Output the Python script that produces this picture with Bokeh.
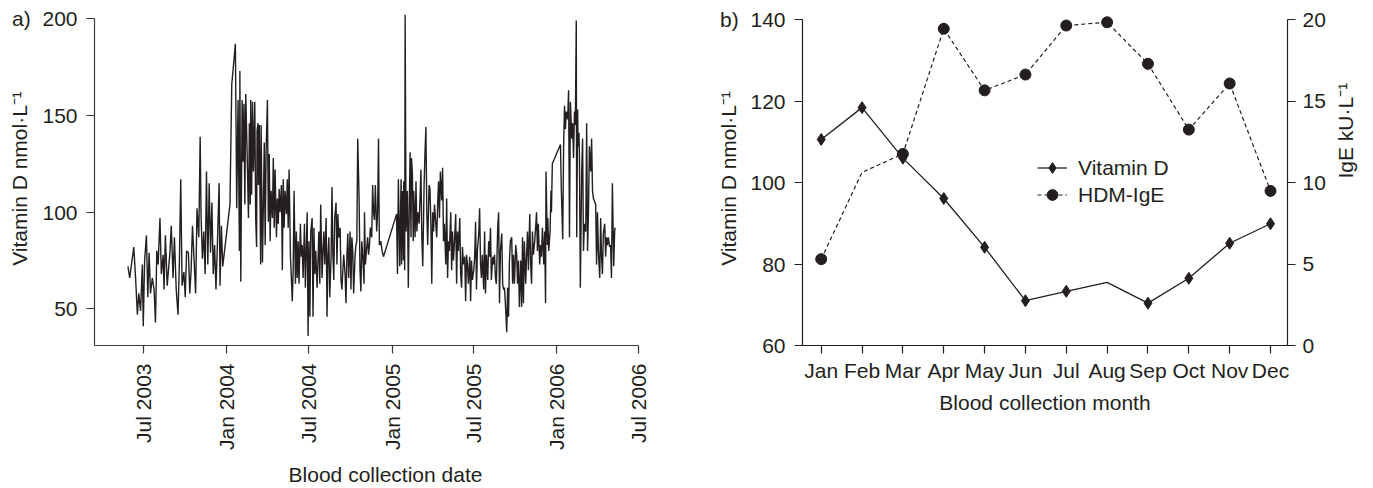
import math
from datetime import datetime
import pandas as pd
from bokeh.plotting import figure
from bokeh.layouts import row
from bokeh.models import (ColumnDataSource, Range1d, LinearAxis, FixedTicker,
                          Legend, LegendItem, DatetimeTickFormatter)
from bokeh.embed import file_html
from bokeh.resources import INLINE

FONT = "Liberation Sans"
INK = "#231f20"
AXIS_A = "#3a3a3a"
FS = "21px"
NB2 = "\u00a0\u00a0"

# ---------------- data: panel a (daily vitamin D, nmol/L) ----------------
series_start = "2003-05-27"   # day 0 of the collection series

days_jun03_dec03 = [0, 4, 13, 17, 21, 24, 28, 32, 34, 37, 41, 44, 47, 50, 54, 58, 61, 64, 67, 71,
                    74, 78, 80, 83, 87, 93, 96, 100, 103, 107, 111, 114, 117, 120, 124, 127, 130, 134, 137, 140,
                    143, 146, 150, 153, 157, 160, 162, 165, 168, 171, 174, 177, 180, 183, 186, 189, 192, 195, 198, 202,
                    204, 207, 210]
nmol_jun03_dec03 = [72, 66, 82, 66, 47, 58, 49, 73, 41, 75, 88, 56, 79, 58, 66, 60, 43, 80, 73, 97,
                    68, 78, 60, 88, 62, 79, 93, 66, 87, 60, 47, 74, 117, 62, 69, 56, 80, 79, 58, 70,
                    93, 78, 58, 102, 87, 139, 98, 76, 90, 68, 121, 73, 115, 79, 105, 68, 83, 60, 82, 115,
                    62, 93, 72]

days_jan04_dec04 = [226, 230, 238, 241, 244, 247, 248, 250, 253, 255, 257, 259, 261, 264, 267, 269, 271,
                    272, 274, 276, 278, 281, 283, 285, 286, 288, 289, 291, 294, 295, 298, 300, 302, 304, 306, 309, 311,
                    313, 315, 317, 320, 322, 324, 326, 329, 331, 333, 335, 337, 340, 342, 344, 346, 348, 351, 353, 355,
                    357, 360, 362, 364, 366, 368, 371, 373, 375, 377, 379, 382, 384, 386, 388, 391, 393, 395, 397, 399,
                    401, 403, 405, 408, 410, 412, 414, 416, 419, 421, 423, 425, 427, 430, 432, 434, 436, 439, 441, 443,
                    445, 447, 450, 452, 454, 456, 458, 461, 463, 465, 467, 470, 472, 474, 476, 478, 481, 483, 485, 487,
                    489, 492, 494, 496, 498, 500, 503, 505, 507, 509, 512, 514, 516, 518, 520, 523, 524, 526, 529, 531,
                    533, 535, 537, 540, 542, 544, 546, 548, 551, 553, 555, 557, 560, 563, 566]
nmol_jan04_dec04 = [104, 166, 187, 102, 158, 80, 173, 64, 158, 126, 156, 104, 161, 131, 97, 146, 104,
                    158, 109, 157, 121, 157, 97, 82, 142, 146, 114, 145, 73, 145, 74, 104, 136, 83, 131, 158, 95,
                    130, 85, 111, 97, 128, 92, 122, 87, 107, 94, 112, 100, 114, 70, 117, 92, 111, 99, 117, 92,
                    122, 77, 66, 54, 70, 111, 63, 90, 66, 85, 63, 94, 77, 83, 66, 94, 61, 80, 100, 36,
                    85, 46, 90, 97, 46, 92, 68, 80, 61, 75, 90, 63, 104, 66, 80, 90, 73, 97, 46, 78,
                    87, 56, 77, 113, 78, 65, 97, 105, 73, 99, 87, 92, 65, 60, 70, 78, 68, 53, 77, 89,
                    66, 90, 60, 87, 80, 58, 77, 83, 85, 138, 107, 70, 59, 85, 78, 63, 100, 73, 82, 87,
                    78, 83, 92, 87, 114, 100, 96, 114, 90, 100, 138, 83, 85, 80, 77]

days_jan05_dec05 = [595, 597, 599, 601, 602, 605, 606, 608, 610, 611, 613, 614, 616, 619, 621, 623, 625,
                    627, 628, 630, 632, 633, 636, 638, 640, 642, 645, 647, 649, 651, 653, 656, 658, 660, 662, 664, 667,
                    669, 671, 673, 675, 677, 679, 681, 684, 686, 688, 690, 692, 695, 697, 699, 701, 704, 706, 708, 710,
                    712, 715, 717, 719, 721, 723, 726, 728, 730, 732, 735, 737, 739, 741, 743, 746, 748, 750, 752, 754,
                    757, 759, 761, 763, 766, 768, 770, 772, 774, 777, 779, 781, 783, 785, 788, 790, 792, 794, 797, 799,
                    801, 803, 805, 808, 810, 812, 814, 816, 819, 821, 823,
                    825, 828, 830, 832, 834, 836, 839, 841, 843, 845, 847, 850, 852, 854, 856, 859, 861, 863, 865, 867,
                    870, 872, 874, 876, 878, 881, 883, 885, 887, 890, 892, 894, 896, 898, 901, 903, 905, 907, 909, 912,
                    914, 916, 918, 921, 923, 925, 926, 929, 930, 932, 935, 937, 938, 940]
nmol_jan05_dec05 = [99, 68, 117, 90, 72, 117, 73, 111, 75, 116, 70, 202, 90, 111, 61, 100, 131,
                    87, 128, 121, 85, 111, 87, 116, 90, 100, 94, 107, 122, 87, 72, 114, 131, 144, 100, 83, 114,
                    112, 94, 63, 100, 90, 104, 97, 87, 104, 116, 97, 121, 106, 123, 85, 94, 73, 107, 66, 85,
                    80, 100, 70, 90, 75, 83, 99, 63, 90, 80, 97, 68, 61, 82, 73, 77, 54, 78, 73, 63,
                    77, 54, 75, 65, 70, 77, 95, 60, 80, 89, 102, 73, 66, 78, 60, 90, 58, 78, 65, 85,
                    77, 92, 65, 77, 73, 78, 66, 63, 92, 100, 53,
                    80, 89, 63, 60, 61, 53, 38, 61, 46, 75, 85, 87, 63, 78, 63, 83, 78, 63, 75, 51,
                    75, 51, 87, 53, 85, 63, 78, 90, 70, 99, 73, 63, 90, 78, 85, 92, 100, 80, 94, 73,
                    83, 77, 92, 73, 90, 53, 121, 83, 97, 80, 90, 111, 100, 125]

days_jan06_may06 = [958, 960, 963, 965, 967, 969, 971, 974, 976, 978, 980, 983, 985, 987, 989, 991, 993, 994, 996, 997,
                    999, 1000, 1002, 1005, 1007, 1009, 1011, 1014, 1016, 1018, 1020, 1022, 1025, 1027, 1029, 1031, 1033, 1036, 1038, 1040,
                    1042, 1045, 1047, 1049, 1051, 1053, 1056, 1058, 1060, 1062, 1064, 1067, 1069, 1071, 1073, 1076, 1078, 1079]
nmol_jan06_may06 = [135, 111, 86, 134, 155, 143, 152, 148, 163, 87, 157, 138, 146, 128, 152, 145, 199, 87, 153, 134,
                    141, 129, 61, 121, 138, 80, 94, 90, 146, 80, 100, 134, 121, 138, 111, 107, 106, 104, 73, 100,
                    80, 66, 97, 77, 68, 89, 94, 77, 87, 83, 87, 82, 83, 66, 115, 72, 90, 92]

date_tick_labels = ["Jul 2003", "Jan 2004", "Jul 2004", "Jan 2005", "Jul 2005", "Jan 2006", "Jul 2006"]
a_yticks = [50, 100, 150, 200]
panel_a_tag = "a)"

# ---------------- data: panel b (monthly means) ----------------
months = ["Jan", "Feb", "Mar", "Apr", "May", "Jun", "Jul", "Aug", "Sep", "Oct", "Nov", "Dec"]
vitd_month_nmol = [110.6, 118.4, 106.0, 96.1, 84.1, 71.0, 73.3, 75.5, 70.4, 76.5, 85.1, 89.9]
vitd_month_marked = [1, 1, 1, 1, 1, 1, 1, 0, 1, 1, 1, 1]
ige_month_kul = [5.30, 10.63, 11.76, 19.44, 15.66, 16.63, 19.64, 19.84, 17.29, 13.25, 16.08, 9.49]
ige_month_marked = [1, 0, 1, 1, 1, 1, 1, 1, 1, 1, 1, 1]
b_left_ticks = [60, 80, 100, 120, 140]
b_right_ticks = [0, 5, 10, 15, 20]
panel_b_tag = "b)"


def style_axis(ax, color):
    ax.axis_line_color = color
    ax.axis_line_width = 1.2
    ax.major_tick_line_color = color
    ax.major_tick_line_width = 1.2
    ax.major_tick_out = 8
    ax.major_tick_in = 0
    ax.minor_tick_line_color = None
    ax.major_label_text_font = FONT
    ax.major_label_text_font_size = FS
    ax.major_label_text_color = INK
    ax.axis_label_text_font = FONT
    ax.axis_label_text_font_size = FS
    ax.axis_label_text_font_style = "normal"
    ax.axis_label_text_color = INK


# ---------------- panel a ----------------
day_all = days_jun03_dec03 + days_jan04_dec04 + days_jan05_dec05 + days_jan06_may06
nmol_all = nmol_jun03_dec03 + nmol_jan04_dec04 + nmol_jan05_dec05 + nmol_jan06_may06
assert len(day_all) == len(nmol_all)
base = pd.Timestamp(series_start)
dates = [base + pd.Timedelta(days=d) for d in day_all]
src_a = ColumnDataSource(dict(date=dates, nmol=nmol_all))

tick_dates = [pd.Timestamp(datetime.strptime(t, "%b %Y")) for t in date_tick_labels]
tick_ms = [int(t.value // 10**6) for t in tick_dates]
xa_start = pd.Timestamp("2003-03-14")
xa_end = pd.Timestamp("2006-09-23")

pa = figure(width=686, height=488, x_axis_type="datetime",
            x_range=Range1d(xa_start, xa_end), y_range=Range1d(31.1, 203.7),
            output_backend="svg", toolbar_location=None,
            min_border_left=94, min_border_right=10, min_border_top=11, min_border_bottom=139)
pa.outline_line_color = None
pa.grid.visible = False
pa.line("date", "nmol", source=src_a, line_color=INK, line_width=1.4)

xa = pa.xaxis[0]
style_axis(xa, AXIS_A)
xa.ticker = FixedTicker(ticks=tick_ms)
xa.formatter = DatetimeTickFormatter(months="%b %Y", years="%b %Y")
xa.major_label_overrides = dict(zip(tick_ms, date_tick_labels))
xa.bounds = (xa_start, tick_dates[-1])
xa.major_label_orientation = math.pi / 2
xa.major_label_standoff = 10
xa.axis_label = "Blood collection date"
xa.axis_label_standoff = 10

ya = pa.yaxis[0]
style_axis(ya, AXIS_A)
ya.ticker = FixedTicker(ticks=a_yticks)
ya.bounds = (31.1, a_yticks[-1])
ya.major_label_overrides = {a_yticks[-1]: panel_a_tag + NB2 + str(a_yticks[-1])}
ya.major_label_standoff = 9
ya.axis_label = "Vitamin D nmol·L⁻¹"
ya.axis_label_standoff = -22

# ---------------- panel b ----------------
mnum = list(range(1, len(months) + 1))
pb = figure(width=687, height=488, x_range=Range1d(0.542, 12.416), y_range=Range1d(60, 142),
            output_backend="svg", toolbar_location=None,
            min_border_left=116, min_border_right=86, min_border_top=9, min_border_bottom=139)
pb.extra_y_ranges = {"ige": Range1d(0, 20.5)}
pb.outline_line_color = None
pb.grid.visible = False

src_v = ColumnDataSource(dict(m=mnum, v=vitd_month_nmol))
src_vm = ColumnDataSource(dict(m=[m for m, k in zip(mnum, vitd_month_marked) if k],
                               v=[v for v, k in zip(vitd_month_nmol, vitd_month_marked) if k]))
src_i = ColumnDataSource(dict(m=mnum, g=ige_month_kul))
src_im = ColumnDataSource(dict(m=[m for m, k in zip(mnum, ige_month_marked) if k],
                               g=[g for g, k in zip(ige_month_kul, ige_month_marked) if k]))

li = pb.line("m", "g", source=src_i, line_color=INK, line_width=1.2, line_dash="4 3", y_range_name="ige")
lv = pb.line("m", "v", source=src_v, line_color=INK, line_width=1.3)
si = pb.scatter("m", "g", source=src_im, marker="circle", size=11, fill_color=INK, line_color=INK,
                y_range_name="ige")
sv = pb.scatter("m", "v", source=src_vm, marker="diamond", size=12, fill_color=INK, line_color=INK)

xb = pb.below[0]
style_axis(xb, INK)
xb.ticker = FixedTicker(ticks=mnum)
xb.major_label_overrides = dict(zip(mnum, months))
xb.major_label_standoff = 5
xb.axis_label = "Blood collection month"
xb.axis_label_standoff = 6

yb = pb.left[0]
style_axis(yb, INK)
yb.ticker = FixedTicker(ticks=b_left_ticks)
yb.bounds = (b_left_ticks[0], b_left_ticks[-1])
yb.major_label_overrides = {b_left_ticks[-1]: panel_b_tag + NB2 + str(b_left_ticks[-1])}
yb.major_label_standoff = 9
yb.axis_label = "Vitamin D nmol·L⁻¹"
yb.axis_label_standoff = -23

yr = LinearAxis(y_range_name="ige", axis_label="IgE kU·L⁻¹",
                ticker=FixedTicker(ticks=b_right_ticks), bounds=(b_right_ticks[0], b_right_ticks[-1]))
style_axis(yr, INK)
yr.major_label_standoff = 7
yr.axis_label_standoff = 17
try:
    yr.axis_label_orientation = math.pi / 2
except Exception:
    pass
pb.add_layout(yr, "right")

leg = Legend(items=[LegendItem(label="Vitamin D", renderers=[lv, sv]),
                    LegendItem(label="HDM-IgE", renderers=[li, si])],
             location=(235, 137), orientation="vertical", border_line_color=None,
             background_fill_alpha=0, padding=0, margin=0, spacing=0,
             glyph_width=30, glyph_height=27, label_height=27, label_standoff=11,
             label_text_font=FONT, label_text_font_size=FS, label_text_color=INK)
pb.add_layout(leg)

layout = row(pa, pb)
open("out.html", "w").write(file_html(layout, INLINE))
